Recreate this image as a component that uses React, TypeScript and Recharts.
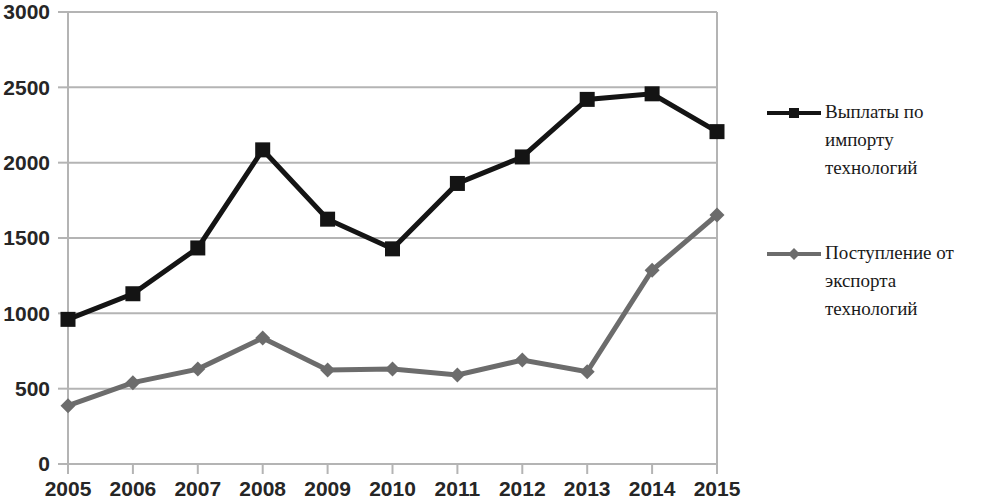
import React from "react";
import { LineChart, Line, XAxis, YAxis, CartesianGrid, ReferenceLine } from "recharts";

const years = ["2005", "2006", "2007", "2008", "2009", "2010", "2011", "2012", "2013", "2014", "2015"];
const importPayments = [960, 1130, 1434, 2085, 1625, 1428, 1862, 2038, 2420, 2457, 2206];
const exportReceipts = [387, 540, 630, 836, 624, 630, 591, 690, 612, 1286, 1653];
const yTicks = [0, 500, 1000, 1500, 2000, 2500, 3000];
const importLabel = ["Выплаты по", "импорту", "технологий"];
const exportLabel = ["Поступление от", "экспорта", "технологий"];

const data = years.map((y, i) => ({ year: y, imp: importPayments[i], exp: exportReceipts[i] }));

const GRID = "#b4b4b4";
const BLACK = "#141414";
const GRAY = "#6c6c6c";
const TICK_STYLE = {
  fill: "#262626",
  fontSize: 21,
  fontWeight: 700,
  fontFamily: "'Liberation Sans', Arial, sans-serif",
};

const SquareDot = (props: any) => {
  const { cx, cy } = props;
  if (cx == null || cy == null) return null;
  return <rect x={cx - 7.5} y={cy - 7.5} width={15} height={15} fill={BLACK} />;
};

const DiamondDot = (props: any) => {
  const { cx, cy } = props;
  if (cx == null || cy == null) return null;
  const r = 7.5;
  return <polygon points={`${cx},${cy - r} ${cx + r},${cy} ${cx},${cy + r} ${cx - r},${cy}`} fill={GRAY} />;
};

const LegendBlock = () => {
  const textStyle: React.CSSProperties = {
    fontFamily: "'Liberation Serif', Tinos, 'DejaVu Serif', 'Times New Roman', serif",
    fontSize: 19,
    color: "#1a1a1a",
    lineHeight: "28px",
  };
  const item = (lines: string[], kind: "sq" | "dm", top: number) => (
    <div style={{ position: "absolute", left: 0, top, display: "flex", alignItems: "flex-start" }}>
      <svg width={60} height={28} style={{ flex: "none" }}>
        {kind === "sq" ? (
          <>
            <line x1={2} y1={15} x2={56} y2={15} stroke={BLACK} strokeWidth={4} />
            <rect x={24} y={10} width={10} height={10} fill={BLACK} />
          </>
        ) : (
          <>
            <line x1={2} y1={15} x2={56} y2={15} stroke={GRAY} strokeWidth={4} />
            <polygon points="29,9 35,15 29,21 23,15" fill={GRAY} />
          </>
        )}
      </svg>
      <div style={textStyle}>
        {lines.map((l, i) => (
          <div key={i}>{l}</div>
        ))}
      </div>
    </div>
  );
  return (
    <div style={{ position: "absolute", left: 765, top: 98, width: 220, height: 260 }}>
      {item(importLabel, "sq", 0)}
      {item(exportLabel, "dm", 141)}
    </div>
  );
};

export default function App() {
  return (
    <div style={{ position: "absolute", left: 0, top: 0, width: 985, height: 503, background: "#fff" }}>
      <LineChart width={985} height={503} data={data} margin={{ top: 12, right: 268, bottom: 0, left: 0 }}>
        <CartesianGrid horizontal vertical={false} stroke={GRID} strokeWidth={2} />
        <XAxis
          dataKey="year"
          height={39}
          tickSize={10}
          tickMargin={7}
          stroke={GRID}
          strokeWidth={2}
          tick={TICK_STYLE}
          interval={0}
        />
        <YAxis
          width={68}
          domain={[0, 3000]}
          ticks={yTicks}
          tickSize={10}
          tickMargin={8}
          stroke={GRID}
          strokeWidth={2}
          tick={TICK_STYLE}
          interval={0}
        />
        <ReferenceLine x="2015" stroke={GRID} strokeWidth={2} />
        <Line
          type="linear"
          dataKey="imp"
          stroke={BLACK}
          strokeWidth={5}
          dot={<SquareDot />}
          activeDot={false}
          isAnimationActive={false}
        />
        <Line
          type="linear"
          dataKey="exp"
          stroke={GRAY}
          strokeWidth={5}
          dot={<DiamondDot />}
          activeDot={false}
          isAnimationActive={false}
        />
      </LineChart>
      <LegendBlock />
    </div>
  );
}
